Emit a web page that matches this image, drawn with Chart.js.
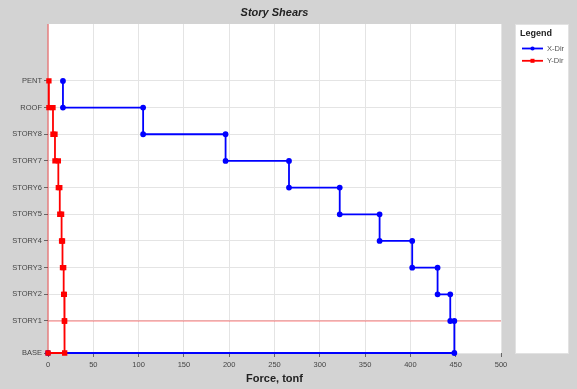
<!DOCTYPE html>
<html>
<head>
<meta charset="utf-8">
<script src="https://cdn.jsdelivr.net/npm/chart.js@4/dist/chart.umd.min.js"></script>
<style>
  html, body { margin: 0; padding: 0; background: #d3d3d3; }
  #wrap { width: 577px; height: 389px; }
</style>
</head>
<body>
<div id="wrap"><canvas id="shearChart" width="577" height="389"></canvas></div>
<script>
// storey levels, bottom to top (elevation, m)
const storyNames = ['BASE', 'STORY1', 'STORY2', 'STORY3', 'STORY4', 'STORY5', 'STORY6', 'STORY7', 'STORY8', 'ROOF', 'PENT'];
const storyElev  = [0, 3.6, 6.6, 9.6, 12.6, 15.6, 18.6, 21.6, 24.6, 27.6, 30.6];

// storey shear (tonf) for STORY1 .. PENT
const shearX = [448.5, 444, 430, 402, 366, 322, 266, 196, 105, 16.5];
const shearY = [18.4, 18.0, 17.3, 16.0, 15.0, 13.0, 11.4, 7.7, 5.5, 1.0];

const xTicks = [0, 50, 100, 150, 200, 250, 300, 350, 400, 450, 500];
const seriesNames = ['X-Dir', 'Y-Dir'];
const refForce = 0;          // red vertical reference
const refStory = 'STORY1';   // red horizontal reference

// step outline: each storey's shear runs from its own level down to the one below
function stepPoints(shear) {
  const pts = [];
  for (let i = shear.length - 1; i >= 0; i--) {
    pts.push({ x: shear[i], y: storyElev[i + 1] });
    pts.push({ x: shear[i], y: storyElev[i] });
  }
  pts.push({ x: 0, y: storyElev[0] });
  return pts;
}

const FONT = "'Liberation Sans', Arial, sans-serif";

// ===== reference lines (x = 0 and STORY1 level) =====
const refLines = {
  id: 'refLines',
  beforeDatasetsDraw(chart) {
    const { ctx, chartArea: a, scales } = chart;
    const px = scales.x.getPixelForValue(refForce);
    const py = scales.y.getPixelForValue(storyElev[storyNames.indexOf(refStory)]);
    ctx.save();
    ctx.strokeStyle = 'rgba(255, 0, 0, 0.5)';
    ctx.lineWidth = 1.2;
    ctx.beginPath();
    ctx.moveTo(px, a.top);
    ctx.lineTo(px, a.bottom);
    ctx.moveTo(a.left, py);
    ctx.lineTo(a.right, py);
    ctx.stroke();
    ctx.restore();
  }
};

// ===== plot background + legend panel =====
const panels = {
  id: 'panels',
  beforeDraw(chart) {
    const { ctx, chartArea: a } = chart;
    ctx.save();
    ctx.fillStyle = '#d3d3d3';
    ctx.fillRect(0, 0, chart.width, chart.height);
    ctx.fillStyle = '#ffffff';
    ctx.fillRect(a.left, a.top, a.right - a.left, a.bottom - a.top);
    ctx.restore();
  },
  afterDraw(chart) {
    const { ctx, chartArea: a } = chart;
    const left = 515, right = 569;
    ctx.save();
    ctx.fillStyle = '#ffffff';
    ctx.fillRect(left, a.top, right - left, a.bottom - a.top + 1);
    ctx.strokeStyle = '#e2e2e2';
    ctx.lineWidth = 1;
    ctx.strokeRect(left + 0.5, a.top + 0.5, right - left - 1, a.bottom - a.top);

    ctx.fillStyle = '#222';
    ctx.font = "bold 9px " + FONT;
    ctx.textBaseline = 'middle';
    ctx.textAlign = 'left';
    ctx.fillText('Legend', 520, 33.5);

    chart.data.datasets.forEach((ds, i) => {
      const y = 48.5 + i * 12.3;
      ctx.strokeStyle = ds.borderColor;
      ctx.lineWidth = 1.8;
      ctx.beginPath();
      ctx.moveTo(522, y);
      ctx.lineTo(543, y);
      ctx.stroke();
      ctx.fillStyle = ds.borderColor;
      ctx.beginPath();
      if (ds.pointStyle === 'rect') {
        ctx.fillRect(530.5, y - 2, 4, 4);
      } else {
        ctx.arc(532.5, y, 2.1, 0, Math.PI * 2);
        ctx.fill();
      }
      ctx.fillStyle = '#555';
      ctx.font = "7.5px " + FONT;
      ctx.fillText(ds.label, 547, y);
    });
    ctx.restore();
  }
};

new Chart(document.getElementById('shearChart'), {
  type: 'scatter',
  data: {
    datasets: [
      {
        label: seriesNames[0],
        data: stepPoints(shearX),
        showLine: true,
        clip: false,
        borderColor: '#0000ff',
        backgroundColor: '#0000ff',
        borderWidth: 1.8,
        pointStyle: 'circle',
        pointRadius: 2,
        pointHoverRadius: 2,
        order: 1
      },
      {
        label: seriesNames[1],
        data: stepPoints(shearY),
        showLine: true,
        clip: false,
        borderColor: '#ff0000',
        backgroundColor: '#ff0000',
        borderWidth: 1.8,
        pointStyle: 'rect',
        pointRadius: 2.5,
        pointHoverRadius: 2.5,
        order: 0
      }
    ]
  },
  options: {
    responsive: false,
    animation: false,
    devicePixelRatio: 1,
    layout: { padding: { left: 0, right: 76, top: 0, bottom: 0 } },
    plugins: {
      legend: { display: false },
      tooltip: { enabled: false },
      title: {
        display: true,
        fullSize: false,
        text: 'Story Shears',
        color: '#222',
        font: { family: FONT, size: 11, weight: 'bold', style: 'italic' },
        padding: { top: 6, bottom: 4.8 }
      }
    },
    scales: {
      x: {
        type: 'linear',
        min: 0, max: 500,
        afterBuildTicks: s => { s.ticks = xTicks.map(v => ({ value: v })); },
        afterFit: s => { s.height = 36; },
        ticks: {
          color: '#444',
          padding: 3,
          maxRotation: 0,
          font: { family: FONT, size: 7.5 }
        },
        grid: { color: '#e4e4e4', tickColor: '#666', tickLength: 4 },
        border: { display: false },
        title: {
          display: true,
          text: 'Force, tonf',
          color: '#222',
          font: { family: FONT, size: 11, weight: 'bold' },
          padding: { top: 0, bottom: 3 }
        }
      },
      y: {
        type: 'linear',
        min: 0, max: 37,
        afterBuildTicks: s => { s.ticks = storyElev.map(v => ({ value: v })); },
        afterFit: s => { s.width = 48; },
        ticks: {
          color: '#444',
          padding: 2,
          font: { family: FONT, size: 7.5 },
          callback: (v) => storyNames[storyElev.indexOf(v)]
        },
        grid: { color: '#e4e4e4', tickColor: '#666', tickLength: 4 },
        border: { display: false }
      }
    }
  },
  plugins: [panels, refLines]
});
</script>
</body>
</html>
